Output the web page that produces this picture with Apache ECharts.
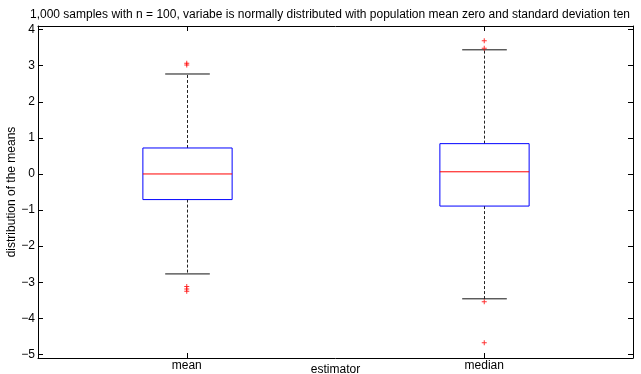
<!DOCTYPE html>
<html>
<head>
<meta charset="utf-8">
<script src="https://cdn.jsdelivr.net/npm/echarts@6/dist/echarts.min.js"></script>
<style>
html,body{margin:0;padding:0;background:#fff;}
#main{width:641px;height:374px;}
</style>
</head>
<body>
<div id="main"></div>
<script>
// box statistics
var categories = ['mean', 'median'];
var whiskerLow = [-2.77, -3.46];
var q1 = [-0.71, -0.89];
var med = [0.0, 0.06];
var q3 = [0.72, 0.84];
var whiskerHigh = [2.77, 3.44];
var outlierMean = [3.02, 3.07, -3.12, -3.19, -3.25];
var outlierMedian = [3.48, 3.69, -3.54, -4.68];
var yTicks = [-5, -4, -3, -2, -1, 0, 1, 2, 3, 4];

var font = 'Liberation Sans, Arial, Helvetica, sans-serif';

var boxData = categories.map(function (c, i) {
	return [i + 1, whiskerLow[i], q1[i], med[i], q3[i], whiskerHigh[i]];
});
var outData = [];
outlierMean.forEach(function (v) { outData.push([1, v]); });
outlierMedian.forEach(function (v) { outData.push([2, v]); });

function fmtNum(v) {
	return v < 0 ? '\u2212' + Math.abs(v) : String(v);
}

function renderBox(params, api) {
	var x = api.value(0);
	var pLo = api.coord([x, api.value(1)]);
	var pQ1 = api.coord([x, api.value(2)]);
	var pMed = api.coord([x, api.value(3)]);
	var pQ3 = api.coord([x, api.value(4)]);
	var pHi = api.coord([x, api.value(5)]);
	var boxW = api.size([0.3, 0])[0];
	var capW = api.size([0.15, 0])[0];
	var cx = Math.round(pQ1[0]) + 0.5;
	var dash = {stroke: '#222', lineWidth: 1, lineDash: [3, 2]};
	var solid = {stroke: '#111', lineWidth: 1};
	return {
		type: 'group',
		children: [
			{type: 'line', shape: {x1: cx, y1: pQ3[1], x2: cx, y2: pHi[1]}, style: dash},
			{type: 'line', shape: {x1: cx, y1: pQ1[1], x2: cx, y2: pLo[1]}, style: dash},
			{type: 'line', shape: {x1: cx - capW / 2, y1: pHi[1], x2: cx + capW / 2, y2: pHi[1]}, style: solid},
			{type: 'line', shape: {x1: cx - capW / 2, y1: pLo[1], x2: cx + capW / 2, y2: pLo[1]}, style: solid},
			{type: 'rect', shape: {x: cx - boxW / 2, y: pQ3[1], width: boxW, height: pQ1[1] - pQ3[1]},
				style: {fill: 'none', stroke: '#0000ff', lineWidth: 1}},
			{type: 'line', shape: {x1: cx - boxW / 2, y1: pMed[1], x2: cx + boxW / 2, y2: pMed[1]},
				style: {stroke: '#ff0000', lineWidth: 1}}
		]
	};
}

var myChart = echarts.init(document.getElementById('main'));
var option = {
	animation: false,
	backgroundColor: '#fff',
	textStyle: {fontFamily: font},
	title: {
		text: '1,000 samples with n = 100, variabe is normally distributed with population mean zero and standard deviation ten',
		left: 25,
		top: 4,
		textStyle: {fontFamily: font, fontSize: 12, fontWeight: 'normal', color: '#000'}
	},
	grid: {left: 38, right: 8, top: 26, bottom: 16, outerBoundsMode: 'none', containLabel: false},
	xAxis: [{
		type: 'value',
		min: 0.5,
		max: 2.5,
		position: 'bottom',
		name: 'estimator',
		nameLocation: 'middle',
		nameGap: 6,
		nameMoveOverlap: false,
		nameTextStyle: {fontFamily: font, fontSize: 12, color: '#000', verticalAlign: 'top'},
		axisLine: {show: true, onZero: false, lineStyle: {color: '#000', width: 1}},
		axisTick: {show: true, inside: true, length: 5, customValues: [1, 2], lineStyle: {color: '#000'}},
		axisLabel: {show: true, customValues: [1, 2], margin: 2, fontSize: 12, color: '#000',
			formatter: function (v) { return categories[Math.round(v) - 1] || ''; }},
		splitLine: {show: false}
	}, {
		type: 'value',
		min: 0.5,
		max: 2.5,
		position: 'top',
		axisLine: {show: true, onZero: false, lineStyle: {color: '#000', width: 1}},
		axisTick: {show: true, inside: true, length: 5, customValues: [1, 2], lineStyle: {color: '#000'}},
		axisLabel: {show: false},
		splitLine: {show: false}
	}],
	yAxis: [{
		type: 'value',
		min: -5.1,
		max: 4.1,
		position: 'left',
		name: 'distribution of the means',
		nameLocation: 'middle',
		nameGap: 20,
		nameMoveOverlap: false,
		nameTextStyle: {fontFamily: font, fontSize: 12, color: '#000'},
		axisLine: {show: true, onZero: false, lineStyle: {color: '#000', width: 1}},
		axisTick: {show: true, inside: true, length: 5, customValues: yTicks, lineStyle: {color: '#000'}},
		axisLabel: {show: true, customValues: yTicks, margin: 3, fontSize: 12, color: '#000', formatter: fmtNum},
		splitLine: {show: false}
	}, {
		type: 'value',
		min: -5.1,
		max: 4.1,
		position: 'right',
		axisLine: {show: true, onZero: false, lineStyle: {color: '#000', width: 1}},
		axisTick: {show: true, inside: true, length: 5, customValues: yTicks, lineStyle: {color: '#000'}},
		axisLabel: {show: false},
		splitLine: {show: false}
	}],
	series: [{
		type: 'custom',
		name: 'box',
		renderItem: renderBox,
		encode: {x: 0, y: [1, 2, 3, 4, 5]},
		data: boxData
	}, {
		type: 'scatter',
		name: 'outliers',
		symbol: 'path://M2,0H3V2H5V3H3V5H2V3H0V2H2Z',
		symbolSize: 5,
		itemStyle: {color: '#ff0000'},
		data: outData
	}]
};
myChart.setOption(option);
</script>
</body>
</html>
